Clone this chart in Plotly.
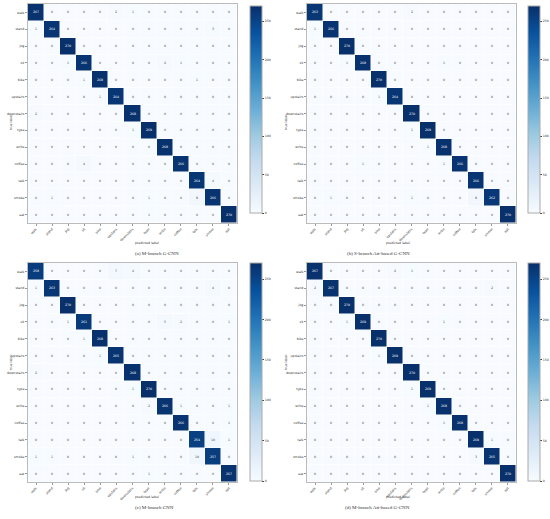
import numpy as np
import plotly.graph_objects as go

labels = ["walk", "stand", "jog", "sit", "bike", "upstairs", "downstairs",
          "type", "write", "coffee", "talk", "smoke", "eat"]

# (a) M-branch G-CNN
cm_a = [
    [267, 0, 0, 0, 0, 2, 1, 0, 0, 0, 0, 0, 0],
    [1, 264, 0, 0, 0, 0, 0, 0, 0, 0, 0, 3, 0],
    [0, 0, 270, 0, 0, 0, 0, 0, 0, 0, 0, 0, 0],
    [0, 0, 1, 266, 0, 0, 0, 0, 2, 1, 0, 0, 0],
    [0, 0, 0, 1, 268, 0, 0, 0, 0, 0, 1, 0, 0],
    [0, 0, 0, 0, 1, 264, 0, 0, 0, 0, 0, 0, 0],
    [2, 0, 0, 0, 0, 0, 268, 0, 0, 0, 0, 0, 0],
    [0, 0, 0, 0, 0, 0, 1, 269, 0, 0, 0, 0, 0],
    [0, 0, 0, 0, 0, 0, 0, 0, 268, 0, 0, 0, 0],
    [0, 0, 0, 4, 0, 0, 0, 0, 0, 266, 0, 0, 0],
    [0, 0, 0, 0, 0, 0, 0, 0, 0, 0, 264, 4, 0],
    [0, 1, 0, 0, 0, 0, 0, 1, 0, 0, 8, 266, 0],
    [0, 0, 0, 0, 0, 0, 0, 1, 0, 0, 0, 0, 270],
]

# (b) S-branch Att-based G-CNN
cm_b = [
    [263, 0, 0, 0, 0, 0, 2, 0, 0, 0, 0, 0, 0],
    [1, 266, 0, 0, 0, 0, 0, 0, 0, 0, 0, 0, 0],
    [0, 0, 270, 0, 0, 0, 0, 0, 0, 0, 0, 0, 0],
    [0, 0, 1, 268, 0, 0, 0, 0, 1, 0, 0, 0, 0],
    [0, 0, 0, 0, 270, 0, 0, 0, 0, 0, 0, 0, 0],
    [0, 0, 0, 0, 1, 264, 0, 0, 0, 0, 0, 0, 0],
    [0, 0, 0, 0, 0, 0, 270, 0, 0, 0, 0, 0, 0],
    [0, 0, 0, 0, 0, 0, 1, 269, 0, 0, 0, 0, 0],
    [0, 0, 0, 0, 0, 0, 0, 1, 268, 0, 0, 0, 0],
    [0, 0, 0, 1, 0, 0, 0, 0, 1, 266, 0, 0, 0],
    [0, 0, 0, 0, 0, 0, 0, 0, 0, 0, 266, 0, 0],
    [0, 1, 0, 0, 0, 0, 1, 0, 0, 0, 8, 262, 0],
    [0, 0, 0, 0, 0, 0, 0, 0, 0, 0, 0, 0, 270],
]

# (c) M-branch CNN
cm_c = [
    [258, 0, 0, 0, 0, 7, 4, 0, 0, 0, 0, 0, 0],
    [1, 263, 0, 0, 0, 0, 0, 0, 0, 0, 0, 4, 0],
    [0, 0, 270, 0, 0, 0, 0, 0, 0, 0, 0, 0, 0],
    [0, 0, 1, 261, 0, 0, 0, 0, 5, 2, 0, 0, 1],
    [0, 0, 0, 1, 268, 0, 0, 0, 0, 0, 0, 0, 0],
    [0, 0, 0, 0, 1, 265, 0, 0, 0, 0, 0, 0, 0],
    [2, 0, 0, 0, 0, 0, 268, 0, 0, 0, 0, 0, 0],
    [0, 0, 0, 0, 0, 0, 1, 270, 0, 0, 0, 0, 0],
    [0, 0, 0, 0, 0, 0, 0, 2, 266, 1, 0, 0, 1],
    [0, 0, 0, 0, 0, 0, 0, 0, 0, 266, 0, 0, 1],
    [0, 0, 0, 0, 0, 0, 0, 0, 0, 0, 254, 10, 1],
    [1, 1, 0, 0, 0, 0, 1, 0, 0, 0, 10, 257, 0],
    [0, 0, 0, 0, 0, 0, 0, 1, 0, 0, 0, 0, 267],
]

# (d) M-branch Att-based G-CNN
cm_d = [
    [267, 0, 0, 0, 0, 2, 1, 0, 0, 0, 0, 0, 0],
    [2, 267, 0, 0, 0, 0, 0, 0, 0, 0, 0, 2, 0],
    [0, 0, 270, 0, 0, 0, 0, 0, 0, 0, 0, 0, 0],
    [0, 0, 1, 269, 0, 0, 0, 0, 1, 0, 0, 0, 0],
    [0, 0, 0, 0, 270, 0, 0, 0, 0, 0, 0, 0, 0],
    [0, 0, 0, 0, 1, 269, 0, 0, 0, 0, 0, 0, 0],
    [0, 0, 0, 0, 0, 0, 270, 0, 0, 0, 0, 0, 0],
    [0, 0, 0, 0, 0, 0, 1, 269, 0, 0, 0, 0, 0],
    [0, 0, 0, 0, 0, 0, 0, 1, 268, 0, 0, 0, 0],
    [0, 0, 0, 0, 0, 0, 0, 0, 1, 268, 0, 0, 0],
    [0, 0, 0, 0, 0, 0, 0, 0, 0, 0, 269, 1, 0],
    [0, 0, 0, 0, 0, 0, 0, 0, 0, 0, 3, 265, 0],
    [0, 0, 0, 0, 0, 0, 0, 0, 0, 0, 0, 0, 270],
]

captions = ["(a) M-branch G-CNN", "(b) S-branch Att-based G-CNN",
            "(c) M-branch CNN", "(d) M-branch Att-based G-CNN"]
cbar_ticks = [0, 50, 100, 150, 200, 250]

W, H = 550, 519
def px(x):
    return x / W
def py(y):
    return 1 - y / H

# pixel boxes of each heatmap: (left, right, top, bottom), colorbar (left x, top, bottom)
panels = [
    dict(box=(28, 237, 4, 223), cb=(250, 6, 213), xlab=243, cap=253),
    dict(box=(307, 516, 4, 223), cb=(528, 6, 213), xlab=243, cap=253),
    dict(box=(28, 237, 263, 482), cb=(250, 263, 481), xlab=501, cap=512),
    dict(box=(307, 516, 263, 482), cb=(528, 263, 481), xlab=501, cap=512),
]

small = dict(size=3.2, color="#333333", family="DejaVu Sans")

fig = go.Figure()
layout = {}
annots = []
for i, (cm, cap, p) in enumerate(zip([cm_a, cm_b, cm_c, cm_d], captions, panels)):
    n = "" if i == 0 else str(i + 1)
    l, r, t, b = p["box"]
    cbx, cbt, cbb = p["cb"]
    fig.add_trace(go.Heatmap(
        z=cm, x=labels, y=labels,
        xaxis="x" + n, yaxis="y" + n,
        colorscale="Blues", zmin=0, zmax=270,
        texttemplate="%{z}", textfont=dict(size=3.2, family="DejaVu Sans"),
        xgap=0.5, ygap=0.5,
        colorbar=dict(
            x=px(cbx), xanchor="left", y=py(cbt), yanchor="top",
            xpad=0, ypad=0,
            lenmode="pixels", len=cbb - cbt, thickness=12,
            thicknessmode="pixels", outlinecolor="#aaaaaa", outlinewidth=1,
            tickvals=cbar_ticks, ticks="outside", ticklen=2,
            tickfont=small,
        ),
        hoverinfo="skip",
    ))
    layout["xaxis" + n] = dict(
        domain=[px(l), px(r)], anchor="y" + n, tickangle=-45,
        tickfont=small, automargin=False,
        showline=True, mirror=True, linecolor="#bbbbbb", linewidth=1,
        ticks="outside", ticklen=2, tickcolor="#999999",
        showgrid=False, zeroline=False,
    )
    layout["yaxis" + n] = dict(
        domain=[py(b), py(t)], anchor="x" + n, autorange="reversed",
        tickfont=small, automargin=False,
        showline=True, mirror=True, linecolor="#bbbbbb", linewidth=1,
        ticks="outside", ticklen=2, tickcolor="#999999",
        showgrid=False, zeroline=False,
    )
    annots.append(dict(
        text="predicted label", xref="paper", yref="paper",
        x=(px(l) + px(r)) / 2, y=py(p["xlab"]), showarrow=False, font=small,
    ))
    annots.append(dict(
        text="true label", xref="paper", yref="paper", textangle=-90,
        x=px(l - 21), y=(py(t) + py(b)) / 2, showarrow=False, font=small,
    ))
    annots.append(dict(
        text=cap, xref="paper", yref="paper",
        x=(px(l) + px(r)) / 2, y=py(p["cap"]), showarrow=False,
        font=dict(size=5, family="Liberation Serif", color="#333333"),
    ))

fig.update_layout(**layout)
fig.update_layout(
    annotations=annots,
    width=W, height=H,
    margin=dict(l=0, r=0, t=0, b=0, autoexpand=False),
    plot_bgcolor="white", paper_bgcolor="white",
)
fig.write_html("out.html", config={"displayModeBar": False},
               post_script="document.body.style.margin='0px';")
